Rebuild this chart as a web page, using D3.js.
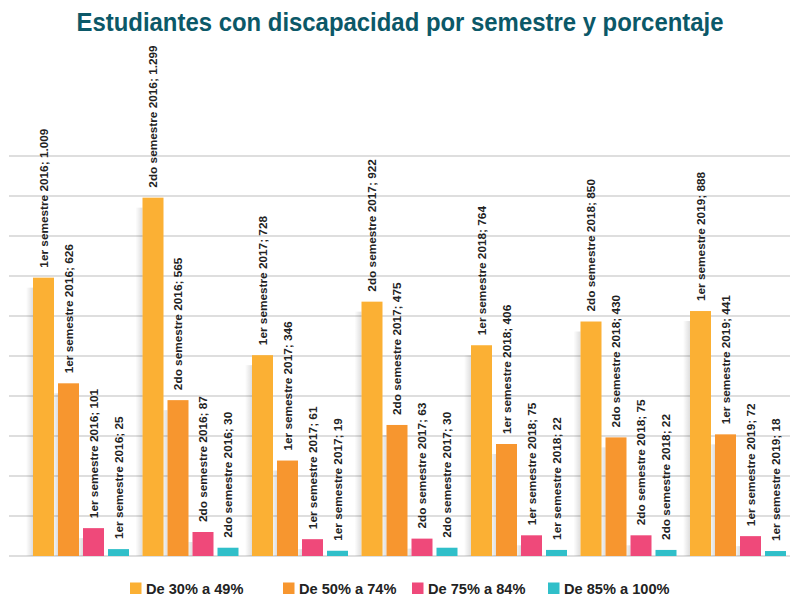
<!DOCTYPE html>
<html>
<head>
<meta charset="utf-8">
<script src="https://cdn.jsdelivr.net/npm/d3@7"></script>
<style>
  html, body { margin: 0; padding: 0; background: #ffffff; }
  svg { display: block; }
</style>
</head>
<body>
<svg id="chart" width="790" height="596"></svg>
<script>
// ---------- DATA ----------
const categories = [
  "1er semestre 2016", "2do semestre 2016", "1er semestre 2017", "2do semestre 2017",
  "1er semestre 2018", "2do semestre 2018", "1er semestre 2019"
];
const seriesNames = ["De 30% a 49%", "De 50% a 74%", "De 75% a 84%", "De 85% a 100%"];
const s30_49  = [1009, 1299, 728, 922, 764, 850, 888];
const s50_74  = [626, 565, 346, 475, 406, 430, 441];
const s75_84  = [101, 87, 61, 63, 75, 75, 72];
const s85_100 = [25, 30, 19, 30, 22, 22, 18];
const seriesValues = [s30_49, s50_74, s75_84, s85_100];
const colors = ["#FBB034", "#F7962F", "#EF497A", "#30BFC9"];
const titleText = "Estudiantes con discapacidad por semestre y porcentaje";

// ---------- LAYOUT ----------
const svg = d3.select("#chart");
const plotTop = 156, plotBottom = 556, plotLeft = 9, plotRight = 790;

const y = d3.scaleLinear().domain([0, 1450]).range([plotBottom, plotTop]);
const x0 = d3.scaleBand().domain(categories).range([27.5, 27.5 + 7 * 109.5]).padding(0);
const x1 = d3.scaleBand().domain(seriesNames).range([5.5, 101.5]).paddingInner(4 / 25).paddingOuter(0);

const fmt = d3.formatLocale({ decimal: ",", thousands: ".", grouping: [3], currency: ["", ""] }).format(",d");

// defs: shadow gradient
const defs = svg.append("defs");
const grad = defs.append("linearGradient").attr("id", "shadowGrad")
  .attr("x1", "0").attr("x2", "1").attr("y1", "0").attr("y2", "0");
grad.append("stop").attr("offset", "0").attr("stop-color", "#000").attr("stop-opacity", 0);
grad.append("stop").attr("offset", "1").attr("stop-color", "#000").attr("stop-opacity", 0.13);

// title
svg.append("text")
  .attr("x", 400).attr("y", 31)
  .attr("text-anchor", "middle")
  .attr("font-family", "'Liberation Sans', Arial, sans-serif")
  .attr("font-weight", "bold")
  .attr("font-size", 25)
  .attr("fill", "#0B5868")
  .attr("textLength", 647)
  .attr("lengthAdjust", "spacingAndGlyphs")
  .text(titleText);

// gridlines
const ticks = d3.range(0, 1451, 145);
svg.append("g").selectAll("line").data(ticks).join("line")
  .attr("x1", plotLeft).attr("x2", plotRight)
  .attr("y1", d => Math.round(y(d))).attr("y2", d => Math.round(y(d)))
  .attr("stroke", "#D3D3D3").attr("stroke-width", 1.6);

// bars
const flat = [];
categories.forEach((c, i) => {
  seriesNames.forEach((s, j) => {
    flat.push({ cat: c, ser: s, j, v: seriesValues[j][i] });
  });
});

const gBars = svg.append("g");
gBars.selectAll("rect.sh").data(flat).join("rect")
  .attr("class", "sh")
  .attr("x", d => x0(d.cat) + x1(d.ser) - 7)
  .attr("width", 7)
  .attr("y", d => Math.min(y(d.v) + 10, plotBottom))
  .attr("height", d => Math.max(0, plotBottom - Math.min(y(d.v) + 10, plotBottom)))
  .attr("fill", "url(#shadowGrad)");

gBars.selectAll("rect.bar").data(flat).join("rect")
  .attr("class", "bar")
  .attr("x", d => x0(d.cat) + x1(d.ser))
  .attr("width", x1.bandwidth())
  .attr("y", d => y(d.v))
  .attr("height", d => plotBottom - y(d.v))
  .attr("fill", d => colors[d.j]);

// labels
svg.append("g").selectAll("text").data(flat).join("text")
  .attr("transform", d => {
    const cx = x0(d.cat) + x1(d.ser) + x1.bandwidth() / 2;
    const ty = y(d.v) - 10;
    return `translate(${cx},${ty}) rotate(-90)`;
  })
  .attr("dy", "0.35em")
  .attr("text-anchor", "start")
  .attr("font-family", "'Liberation Sans', Arial, sans-serif")
  .attr("font-weight", "bold")
  .attr("font-size", 11.8)
  .attr("fill", "#222222")
  .text(d => `${d.cat}; ${fmt(d.v)}`);

// legend
const legendX = [130, 283, 412, 548];
const lg = svg.append("g").selectAll("g").data(seriesNames).join("g")
  .attr("transform", (d, i) => `translate(${legendX[i]},582.5)`);
lg.append("rect").attr("width", 11.5).attr("height", 11.5).attr("fill", (d, i) => colors[i]);
lg.append("text")
  .attr("x", 16).attr("y", 11)
  .attr("font-family", "'Liberation Sans', Arial, sans-serif")
  .attr("font-weight", "bold")
  .attr("font-size", 14.6)
  .attr("fill", "#222222")
  .text(d => d);
</script>
</body>
</html>
